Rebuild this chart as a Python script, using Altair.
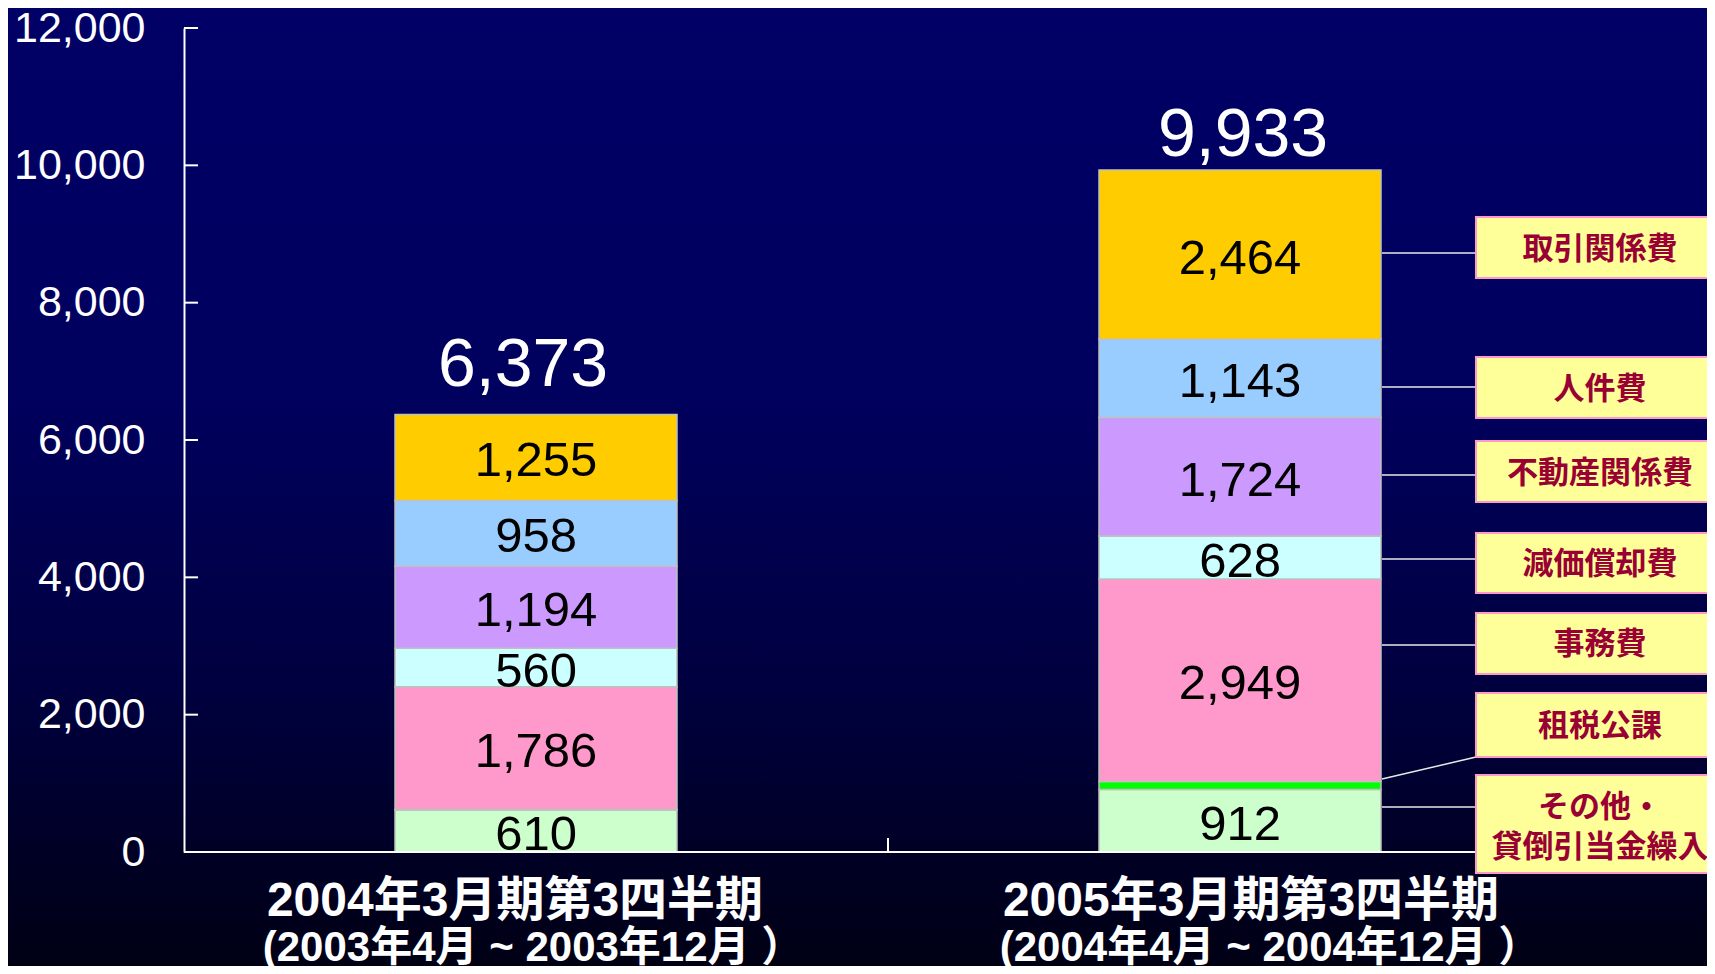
import altair as alt
import pandas as pd

# ---------------- data ----------------
periods = ["2004年3月期第3四半期", "2005年3月期第3四半期"]
sub_labels = ["(2003年4月 ~ 2003年12月 ）", "(2004年4月 ~ 2004年12月 ）"]
categories = ["その他・貸倒引当金繰入", "租税公課", "事務費", "減価償却費",
              "不動産関係費", "人件費", "取引関係費"]
values_2004 = [610, 10, 1786, 560, 1194, 958, 1255]
values_2005 = [912, 113, 2949, 628, 1724, 1143, 2464]
totals = [6373, 9933]
y_tick_values = [0, 2000, 4000, 6000, 8000, 10000, 12000]

# callout boxes (text, box top / bottom and leader-line ends in y-scale units)
box_text = ["その他・\n貸倒引当金繰入", "租税公課", "事務費", "減価償却費",
            "不動産関係費", "人件費", "取引関係費"]
box_top = [1121, 2315, 3481, 4646, 5985, 7209, 9247]
box_bottom = [-306, 1383, 2592, 3772, 5097, 6320, 8359]
leader_bar_end = [655, 1063, 3015, 4267, 5490, 6772, 8723]
leader_box_end = [655, 1383, 3015, 4267, 5490, 6772, 8723]

# ---------------- style / layout ----------------
colors = ["#CCFFCC", "#00FF00", "#FF99CC", "#CCFFFF", "#CC99FF", "#99CCFF", "#FFCC00"]
W, H = 1408, 824
BAR = 282
BAR2_RIGHT = 1198
BOX_LEFT = 1292
BOX_TEXT_X = 1416
LATIN = "Liberation Sans"
CJK = "Liberation Sans, Noto Sans CJK JP"
total_dx = [-13, 3]          # pixel nudges of the total labels
total_dy = [-28, -14]
label1_dx = [-21, 11]        # pixel nudges of the category captions
label2_dx = [-3, 30]

rows = []
for p, vals in zip(periods, [values_2004, values_2005]):
    for i, (c, v) in enumerate(zip(categories, vals)):
        rows.append({"period": p, "category": c, "value": v, "idx": i})
df = pd.DataFrame(rows)

df_tot = pd.DataFrame({"period": periods, "total": totals, "sub": sub_labels})
df_ticks = pd.DataFrame({"t": y_tick_values})
df_box = pd.DataFrame({"text": box_text, "top": box_top, "bottom": box_bottom,
                       "mid": [(a + b) / 2 for a, b in zip(box_top, box_bottom)],
                       "l1": leader_bar_end, "l2": leader_box_end,
                       "lines": [t.count("\n") + 1 for t in box_text]})

yscale = alt.Scale(domain=[0, 12000], nice=False, zero=True)
xscale = alt.Scale(domain=periods, paddingInner=0, paddingOuter=0)

X = alt.X("period:N", scale=xscale, sort=periods,
          axis=alt.Axis(labels=False, ticks=False, domain=False, title=None, grid=False))

bg = alt.Chart(alt.Data(values=[{"a": 1}])).mark_rect(
    fill=alt.Gradient(
        gradient="linear",
        stops=[alt.GradientStop(color="#000066", offset=0),
               alt.GradientStop(color="#00005E", offset=0.4),
               alt.GradientStop(color="#000040", offset=0.7),
               alt.GradientStop(color="#000014", offset=1)],
        x1=0, x2=0, y1=0, y2=1),
).encode(x=alt.value(-176), x2=alt.value(1530), y=alt.value(-20), y2=alt.value(940))

bars = alt.Chart(df).mark_bar(size=BAR, stroke="#C0C0C0", strokeWidth=1.5).encode(
    x=X,
    y=alt.Y("value:Q", stack="zero", scale=yscale,
            axis=alt.Axis(values=y_tick_values, format=",d", labelFont=LATIN,
                          labelFontSize=43, labelColor="white", domainColor="white",
                          domainWidth=2, ticks=True, tickSize=0, tickColor="transparent",
                          labelPadding=39, grid=False, title=None, zindex=1)),
    color=alt.Color("category:N", scale=alt.Scale(domain=categories, range=colors), legend=None),
    order=alt.Order("idx:Q", sort="ascending"),
)

labels = alt.Chart(df).transform_stack(
    stack="value", as_=["v0", "v1"], groupby=["period"],
    sort=[alt.SortField("idx", order="ascending")]
).transform_calculate(mid="(datum.v0 + datum.v1) / 2").transform_filter(
    "datum.category != '租税公課'"
).mark_text(font=LATIN, fontSize=49, color="black", baseline="middle", dy=4).encode(
    x=X, y=alt.Y("mid:Q", scale=yscale), text=alt.Text("value:Q", format=",d"))

per_bar_text = []
for k, p in enumerate(periods):
    base = alt.Chart(df_tot).transform_filter(alt.datum.period == p)
    per_bar_text.append(base.mark_text(
        font=LATIN, fontSize=68, color="white", baseline="alphabetic",
        dx=total_dx[k], dy=total_dy[k]).encode(
        x=X, y=alt.Y("total:Q", scale=yscale), text=alt.Text("total:Q", format=",d")))
    per_bar_text.append(base.mark_text(
        font=CJK, fontSize=48, fontWeight="bold", color="white", baseline="middle",
        dx=label1_dx[k]).encode(x=X, y=alt.value(H + 50), text="period:N"))
    per_bar_text.append(base.mark_text(
        font=CJK, fontSize=42, fontWeight="bold", color="white", baseline="middle",
        dx=label2_dx[k]).encode(x=X, y=alt.value(H + 96), text="sub:N"))

yticks = alt.Chart(df_ticks).mark_rule(color="white", strokeWidth=2).encode(
    y=alt.Y("t:Q", scale=yscale), x=alt.value(0), x2=alt.value(14))

baseline = alt.Chart(alt.Data(values=[{"z": 0}])).mark_rule(color="white", strokeWidth=2).encode(
    y=alt.Y("z:Q", scale=yscale), x=alt.value(0), x2=alt.value(BOX_LEFT + 20))

midtick = alt.Chart(alt.Data(values=[{"z": 0}])).mark_rule(color="white", strokeWidth=2).encode(
    x=alt.value(W / 2), y=alt.value(H - 14), y2=alt.value(H))

leaders = alt.Chart(df_box).mark_rule(color="#E8E8E8", strokeWidth=1.5).encode(
    x=alt.value(BAR2_RIGHT), x2=alt.value(BOX_LEFT),
    y=alt.Y("l1:Q", scale=yscale), y2="l2:Q")

boxes = alt.Chart(df_box).mark_rect(fill="#FFFF99", stroke="#FF99CC", strokeWidth=2).encode(
    x=alt.value(BOX_LEFT), x2=alt.value(BOX_LEFT + 260),
    y=alt.Y("top:Q", scale=yscale), y2="bottom:Q")

box_labels1 = alt.Chart(df_box).transform_filter("datum.lines == 1").mark_text(
    font="Noto Sans CJK JP", fontSize=31, fontWeight="bold", color="#990033",
    baseline="middle", dy=2).encode(
    x=alt.value(BOX_TEXT_X), y=alt.Y("mid:Q", scale=yscale), text="text:N")

box_labels2 = alt.Chart(df_box).transform_filter("datum.lines == 2").mark_text(
    font="Noto Sans CJK JP", fontSize=31, fontWeight="bold", color="#990033",
    baseline="middle", lineBreak="\n", lineHeight=40, dy=-16).encode(
    x=alt.value(BOX_TEXT_X), y=alt.Y("mid:Q", scale=yscale), text="text:N")

chart = alt.layer(bg, bars, labels, *per_bar_text, yticks, baseline, midtick,
                  leaders, boxes, box_labels1, box_labels2).properties(
    width=W, height=H,
    padding={"left": 176, "top": 20, "right": 115, "bottom": 114},
    autosize=alt.AutoSizeParams(type="none"),
    background="#000044",
).configure_view(stroke=None)

chart.save("out.html", embed_options={"renderer": "svg", "actions": False})
